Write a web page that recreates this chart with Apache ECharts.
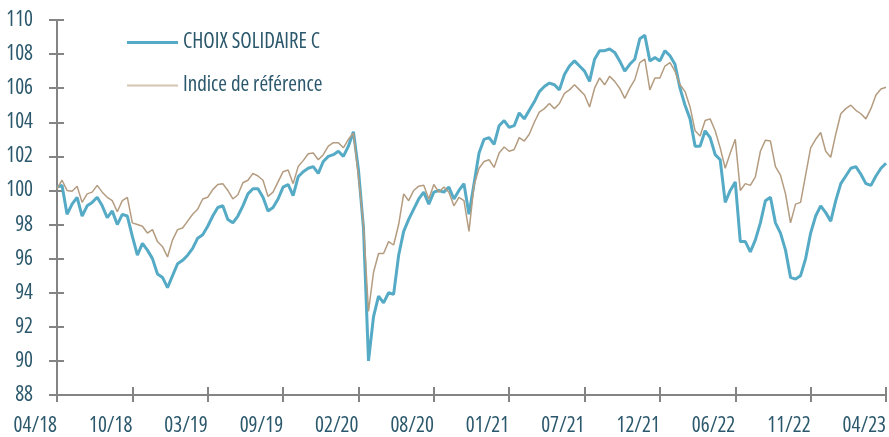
<!DOCTYPE html>
<html>
<head>
<meta charset="utf-8">
<script src="https://cdn.jsdelivr.net/npm/echarts@6/dist/echarts.min.js"></script>
<style>
html,body{margin:0;padding:0;background:#fff;}
#chart{width:889px;height:437px;}
</style>
</head>
<body>
<div id="chart"></div>
<script>
const tickLabels = ['04/18','10/18','03/19','09/19','02/20','08/20','01/21','07/21','12/21','06/22','11/22','04/23'];
const seriesNames = ['CHOIX SOLIDAIRE C', 'Indice de référence'];
const fund = [
100.2,100.3,98.6,99.2,99.6,98.5,99.1,99.3,99.6,99.1,
98.4,98.8,98.0,98.6,98.5,97.3,96.2,96.9,96.5,96.0,
95.1,94.9,94.3,95.0,95.7,95.9,96.2,96.6,97.2,97.4,
97.9,98.5,99.0,99.1,98.3,98.1,98.5,99.1,99.8,100.1,
100.1,99.6,98.8,99.0,99.5,100.2,100.35,99.7,100.8,101.1,
101.3,101.4,101.0,101.7,102.0,102.1,102.3,102.0,102.6,103.45,
101.2,97.8,90.0,92.6,93.8,93.4,94.0,93.9,96.2,97.6,
98.3,98.9,99.5,99.9,99.2,99.9,100.0,99.9,100.2,99.5,
100.0,100.4,98.6,100.4,102.2,103.0,103.1,102.7,103.8,104.1,
103.7,103.8,104.55,104.2,104.7,105.2,105.8,106.1,106.3,106.2,
105.9,106.8,107.3,107.6,107.3,107.0,106.4,107.7,108.2,108.2,
108.3,108.1,107.6,107.0,107.4,107.7,108.9,109.1,107.6,107.8,
107.6,108.2,107.9,107.4,106.0,105.0,104.2,102.6,102.6,103.5,
103.1,102.1,101.8,99.3,100.0,100.5,97.0,97.0,96.4,97.1,
98.1,99.4,99.6,98.1,97.5,96.5,94.9,94.8,95.0,96.0,
97.5,98.5,99.1,98.7,98.2,99.4,100.4,100.85,101.3,101.4,
100.95,100.4,100.3,100.85,101.3,101.6
];
const benchmark = [
100.1,100.6,100.0,99.95,100.25,99.3,99.8,99.9,100.3,99.9,
99.6,99.4,98.75,99.4,99.6,98.1,98.0,97.9,97.5,97.7,
97.0,96.7,96.1,97.1,97.7,97.8,98.2,98.6,98.9,99.5,
99.6,100.05,100.35,100.4,100.0,99.5,99.75,100.45,100.6,101.0,
100.85,100.6,99.65,99.9,100.5,101.1,101.2,100.4,101.4,101.75,
102.15,102.2,101.8,102.1,102.6,102.8,102.8,102.5,103.0,103.35,
100.8,98.0,92.9,95.2,96.3,96.3,97.0,96.8,98.0,99.8,
99.4,100.0,100.25,100.3,99.5,100.35,99.9,100.2,99.9,99.1,
99.6,99.4,97.6,100.3,101.3,101.7,101.8,101.35,102.2,102.55,
102.3,102.4,103.1,102.9,103.3,104.0,104.6,104.8,105.1,104.8,
105.1,105.7,105.9,106.2,105.9,105.6,104.9,106.0,106.6,106.2,
106.7,106.4,106.0,105.4,106.0,106.5,107.5,107.7,105.9,106.6,
106.6,107.3,107.5,107.0,106.2,105.8,104.9,103.5,103.2,104.1,
104.2,103.5,102.5,101.3,102.2,103.0,100.0,100.4,100.3,100.8,
102.3,102.95,102.9,101.4,100.9,99.8,98.1,99.2,99.3,100.9,
102.5,103.0,103.4,102.3,101.95,103.3,104.5,104.8,105.0,104.7,
104.5,104.2,104.8,105.6,105.95,106.05
];

const FONT = '"Open Sans", "Roboto Condensed", sans-serif';
const STRETCH = 'condensed';
const TXT = '#2b586c';
const AX = '#848484';
const lastIdx = fund.length - 1;
const step = lastIdx / (tickLabels.length - 1);
const txt = (size) => ({fontFamily: FONT, fontStyle: STRETCH, fontSize: size, color: TXT});

const chart = echarts.init(document.getElementById('chart'), null, {renderer: 'canvas'});
chart.setOption({
  animation: false,
  backgroundColor: '#ffffff',
  grid: {left: 57, right: 1, top: 20, bottom: 41, containLabel: false},
  legend: {
    orient: 'vertical', left: 127, top: 32, padding: 0,
    itemWidth: 51, itemHeight: 14, itemGap: 22,
    data: [
      {name: seriesNames[0], icon: 'path://M0,0 M51,14 M0,5.5 L51,5.5 L51,8.5 L0,8.5 Z', itemStyle: {color: '#55aac6'}},
      {name: seriesNames[1], icon: 'path://M0,0 M51,14 M0,6 L51,6 L51,8 L0,8 Z', itemStyle: {color: '#d5c6b3'}}
    ],
    textStyle: txt(21)
  },
  xAxis: [{
    type: 'value', min: 0, max: lastIdx, interval: step,
    axisLine: {show: true, onZero: false, lineStyle: {color: AX, width: 2}},
    axisTick: {show: true, length: 7, lineStyle: {color: AX, width: 2}},
    axisLabel: Object.assign({align: 'right', margin: 21,
      formatter: v => tickLabels[Math.round(v / step)] || ''}, txt(21)),
    splitLine: {show: false}
  }, {
    type: 'value', min: 0, max: lastIdx, interval: step, position: 'bottom',
    axisLine: {show: false},
    axisTick: {show: true, inside: true, length: 8, lineStyle: {color: AX, width: 2}},
    axisLabel: {show: false}, splitLine: {show: false}
  }],
  yAxis: [{
    type: 'value', min: 88, max: 110, interval: 2,
    axisLine: {show: true, lineStyle: {color: AX, width: 2}},
    axisTick: {show: true, length: 8, lineStyle: {color: AX, width: 2}},
    axisLabel: Object.assign({margin: 24}, txt(21)),
    splitLine: {show: false}
  }, {
    type: 'value', min: 88, max: 110, interval: 2, position: 'left',
    axisLine: {show: false},
    axisTick: {show: true, inside: true, length: 7, lineStyle: {color: AX, width: 2}},
    axisLabel: {show: false}, splitLine: {show: false}
  }],
  series: [{
    name: seriesNames[0], type: 'line', symbol: 'none', showSymbol: false,
    data: fund.map((v, i) => [i, v]),
    lineStyle: {color: '#55aac6', width: 3},
    itemStyle: {color: '#55aac6'}
  }, {
    name: seriesNames[1], type: 'line', symbol: 'none', showSymbol: false,
    data: benchmark.map((v, i) => [i, v]),
    lineStyle: {color: '#b49c80', width: 1.5},
    itemStyle: {color: '#d5c6b3'}
  }]
});
</script>
</body>
</html>
